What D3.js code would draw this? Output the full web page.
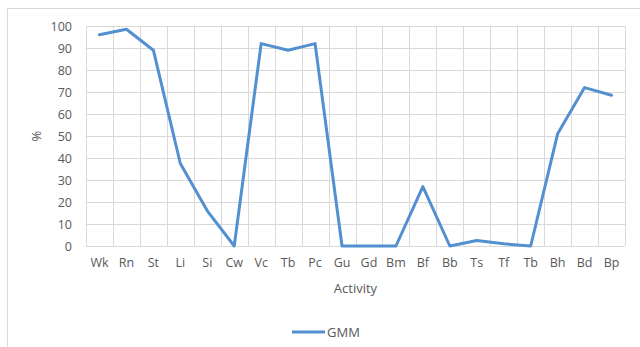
<!DOCTYPE html>
<html>
<head>
<meta charset="utf-8">
<script src="https://cdn.jsdelivr.net/npm/d3@7"></script>
<style>
  html, body { margin: 0; padding: 0; background: #fff; }
  svg { display: block; }
  text { font-family: "Open Sans", "Noto Sans", sans-serif; fill: #595959; }
</style>
</head>
<body>
<svg id="chart" width="640" height="347"></svg>
<script>
// Activity codes along the x axis
const activities = ["Wk","Rn","St","Li","Si","Cw","Vc","Tb","Pc","Gu","Gd","Bm","Bf","Bb","Ts","Tf","Tb","Bh","Bd","Bp"];
// GMM percentage per activity
const gmm = [96, 98.5, 89, 37.5, 16, 0, 92, 89, 92, 0, 0, 0, 27, 0, 2.5, 1, 0, 51, 72, 68.5];
// Y axis tick values
const yTicks = [0, 10, 20, 30, 40, 50, 60, 70, 80, 90, 100];
const seriesName = "GMM";

const svg = d3.select("#chart");
const W = 640, H = 347;
const m = { left: 86, right: 15, top: 26, bottom: 101 };
const iw = W - m.left - m.right, ih = H - m.top - m.bottom;

// chart frame
svg.append("rect").attr("x", 7.5).attr("y", 8.5).attr("width", 640).attr("height", 345)
  .attr("fill", "#fff").attr("stroke", "#d9d9d9");

const idx = activities.map((_, i) => i);
const x = d3.scaleBand().domain(idx).range([0, iw]).padding(0);
const y = d3.scaleLinear().domain([0, 100]).range([ih, 0]);

const g = svg.append("g").attr("transform", `translate(${m.left},${m.top})`);

// horizontal gridlines
g.append("g").selectAll("line").data(yTicks).join("line")
  .attr("x1", 0).attr("x2", iw)
  .attr("y1", d => Math.round(y(d)) + 0.5).attr("y2", d => Math.round(y(d)) + 0.5)
  .attr("stroke", "#d9d9d9").attr("stroke-width", 1);

// vertical gridlines between categories
const bounds = idx.map(i => x(i)).concat([iw]);
g.append("g").selectAll("line").data(bounds).join("line")
  .attr("x1", d => Math.round(d) + 0.5).attr("x2", d => Math.round(d) + 0.5)
  .attr("y1", 0).attr("y2", ih)
  .attr("stroke", "#d9d9d9").attr("stroke-width", 1);

// y axis labels
const yAxis = d3.axisLeft(y).tickValues(yTicks).tickSize(0).tickPadding(14);
g.append("g").call(yAxis)
  .call(s => s.select(".domain").remove())
  .selectAll("text").attr("font-size", 12.5).style("fill", "#595959");

// x axis labels
const xAxis = d3.axisBottom(x).tickFormat(i => activities[i]).tickSize(0).tickPadding(12);
g.append("g").attr("transform", `translate(0,${ih})`).call(xAxis)
  .call(s => s.select(".domain").remove())
  .selectAll("text").attr("font-size", 12.5).style("fill", "#595959");

// data line
const line = d3.line()
  .x((d, i) => x(i) + x.bandwidth() / 2)
  .y(d => y(d));
g.append("path").datum(gmm)
  .attr("d", line)
  .attr("fill", "none")
  .attr("stroke", "#5390d0")
  .attr("stroke-width", 3)
  .attr("stroke-linejoin", "round")
  .attr("stroke-linecap", "round");

// axis titles
svg.append("text").attr("x", m.left + iw / 2).attr("y", 293)
  .attr("text-anchor", "middle").attr("font-size", 13).text("Activity");
svg.append("text")
  .attr("transform", `translate(41,${m.top + ih / 2}) rotate(-90)`)
  .attr("text-anchor", "middle").attr("font-size", 13).text("%");

// legend
const lg = svg.append("g").attr("transform", "translate(292,332)");
lg.append("line").attr("x1", 0).attr("x2", 33).attr("y1", 0).attr("y2", 0)
  .attr("stroke", "#5390d0").attr("stroke-width", 3);
lg.append("text").attr("x", 35).attr("y", 4.5).attr("font-size", 13).text(seriesName);
</script>
</body>
</html>
